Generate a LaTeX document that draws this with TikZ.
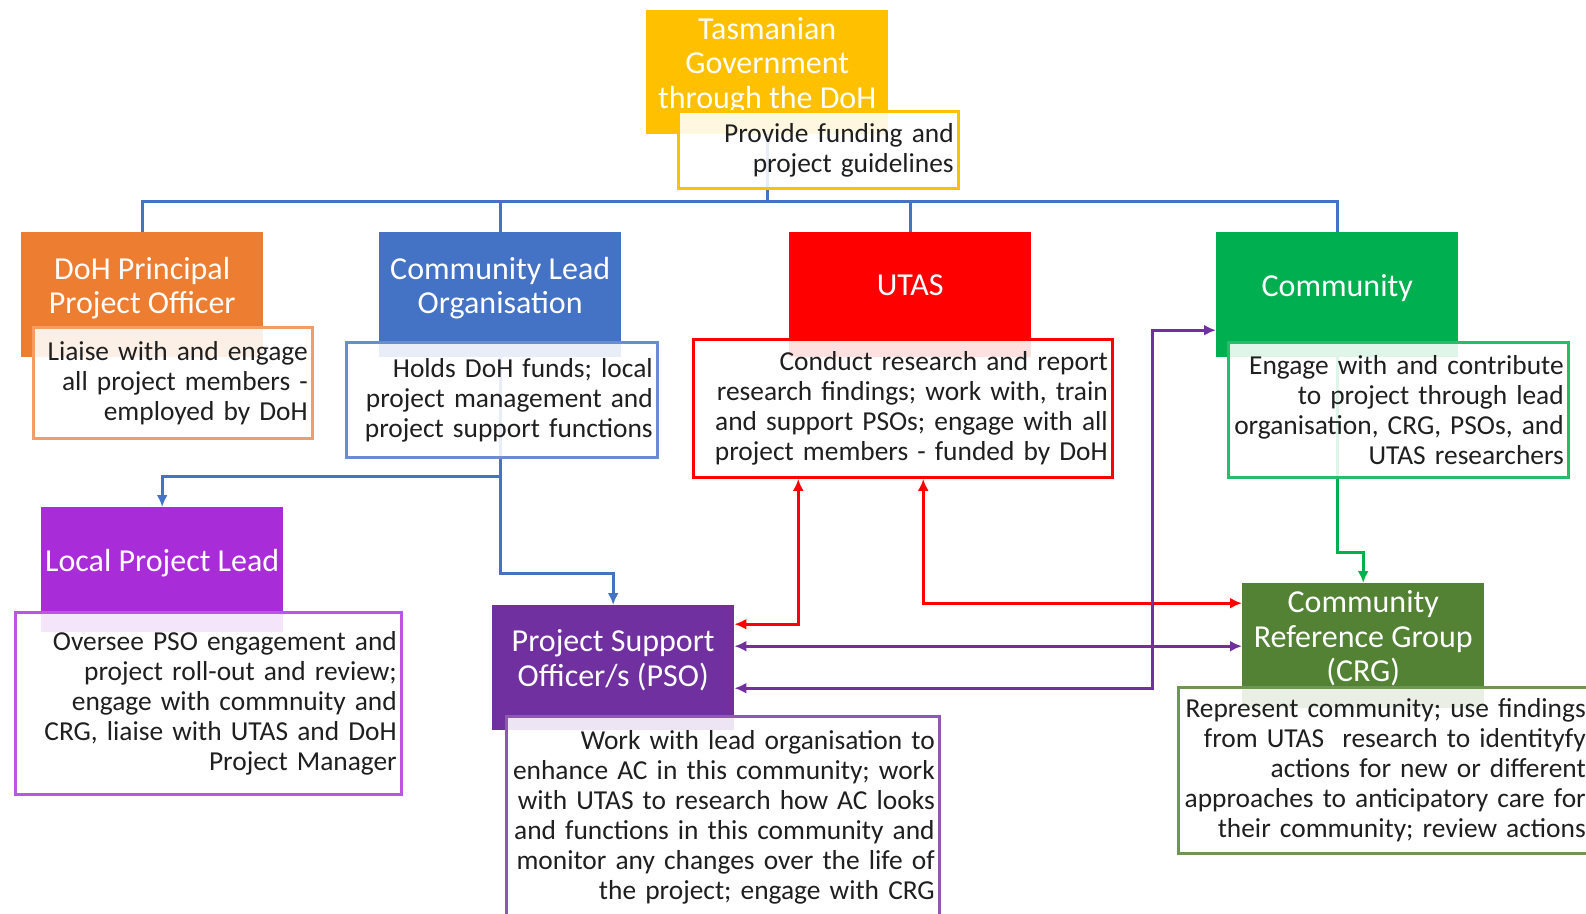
\documentclass[tikz,border=0pt]{standalone}
\usepackage{fontspec}
\setmainfont{Carlito}
\usepackage{tikz}
\usetikzlibrary{arrows.meta}
\definecolor{tasyellow}{HTML}{FFC000}
\definecolor{dohorange}{HTML}{ED7D31}
\definecolor{cloblue}{HTML}{4472C4}
\definecolor{utasred}{HTML}{FF0000}
\definecolor{commgreen}{HTML}{00B050}
\definecolor{lplpurple}{HTML}{A92CD9}
\definecolor{psopurple}{HTML}{7030A0}
\definecolor{crggreen}{HTML}{548235}
\newcommand\nohyph{\hyphenpenalty=10000\relax}
\tikzstyle{HEAD} = [rectangle, anchor=north west, minimum width=242pt, minimum height=125pt, inner sep=0pt, align=center, text=white, font=\fontsize{32}{34.5}\selectfont, text depth=19pt]
\tikzstyle{DESC} = [rectangle, draw, line width=2.5pt, fill=white, fill opacity=0.88, text opacity=1, anchor=north west, align=right, inner xsep=4.5pt, inner ysep=0pt, text=black!88, font=\fontsize{27.4}{30}\selectfont\nohyph]
\tikzstyle{LINE} = [draw, line width=3pt, ->, >={Latex[length=12pt,width=11pt]}]
\tikzstyle{BOTH} = [draw, line width=3pt, <->, >={Latex[length=12pt,width=11pt]}]

\begin{document}
\begin{tikzpicture}[x=1pt, y=-1pt]
% Define
\tikzstyle{BUS} = [draw, line width=3pt, cloblue]
\useasboundingbox (0,0) rectangle (1586,913);
\clip (0,0) rectangle (1586,913);
\coordinate (bus) at (0,201);
% Place nodes
\node [HEAD, fill=tasyellow, minimum height=124pt] (tas) at (646,10) {Tasmanian\\Government\\through the DoH};
\node [HEAD, fill=dohorange] (doh) at (21,232) {DoH Principal\\Project Officer};
\node [HEAD, fill=cloblue] (clo) at (379,232) {Community Lead\\Organisation};
\node [HEAD, fill=utasred] (utas) at (789,232) {UTAS};
\node [HEAD, fill=commgreen] (comm) at (1216,232) {Community};
\node [HEAD, fill=lplpurple] (lpl) at (41,507) {Local Project Lead};
\node [HEAD, fill=psopurple] (pso) at (492,605) {Project Support\\Officer/s (PSO)};
\node [HEAD, fill=crggreen] (crg) at (1242,583) {Community\\Reference Group\\(CRG)};
% LINES under the boxes
\path [BUS] (tas.south) -- (tas.south |- bus);
\path [BUS] (doh.north) |- (comm.north |- bus) -- (comm.north);
\foreach \n in {clo, utas}
  \path [BUS] (\n.north) -- (\n.north |- bus);
\path [LINE, cloblue] (clo.south) -- ++(0,119) -| (lpl.north);
\path [LINE, cloblue] (clo.south) -- ++(0,216) -| (pso.north);
\path [LINE, commgreen] (comm.south) -- ++(0,195) -| (crg.north);
% Place boxes
\node [DESC, draw=tasyellow, text width=271pt, minimum height=77pt] (provide) at ([shift={(31,-24)}]tas.south west) {Provide funding and\\project guidelines};
\node [DESC, draw=dohorange!75, text width=270pt, minimum height=111pt] (liaise) at ([shift={(11,-31)}]doh.south west) {Liaise with and engage\\all project members -\\employed by DoH};
\node [DESC, draw=cloblue!80, text width=302pt, minimum height=115pt] (holds) at ([shift={(-34,-16)}]clo.south west) {Holds DoH funds; local\\project management and\\project support functions};
\node [DESC, draw=utasred, text width=410pt, minimum height=138pt] (conduct) at ([shift={(-97,-19)}]utas.south west) {Conduct research and report\\research findings; work with, train\\and support PSOs; engage with all\\project members - funded by DoH};
\node [DESC, draw=commgreen!85, text width=331pt, minimum height=135pt] (engage) at ([shift={(11,-16)}]comm.south west) {Engage with and contribute\\to project through lead\\organisation, CRG, PSOs, and\\UTAS researchers};
\node [DESC, draw=lplpurple!80, text width=377pt, minimum height=182pt] (oversee) at ([shift={(-27,-21)}]lpl.south west) {Oversee PSO engagement and\\project roll-out and review;\\engage with commnuity and\\CRG, liaise with UTAS and DoH\\Project Manager};
\node [DESC, draw=psopurple!80, text width=424pt, minimum height=202pt] (work) at ([shift={(13,-15)}]pso.south west) {Work with lead organisation to\\enhance AC in this community; work\\with UTAS to research how AC looks\\and functions in this community and\\monitor any changes over the life of\\the project; engage with CRG};
\node [DESC, draw=crggreen!85, text width=403pt, minimum height=166pt] (represent) at ([shift={(-65,-22)}]crg.south west) {Represent community; use findings\\from UTAS~ research to identityfy\\actions for new or different\\approaches to anticipatory care for\\their community; review actions};
% LINES and ARROWS
\path [BOTH, utasred] ([xshift=-104.5pt]conduct.south) |- ([yshift=43.5pt]pso.east);
\path [BOTH, utasred] ([xshift=20.5pt]conduct.south) |- ([yshift=42.5pt]crg.west);
\path [BOTH, psopurple] ([yshift=21.5pt]pso.east) -- ([yshift=21.5pt]pso.east -| crg.west);
\path [BOTH, psopurple] ([yshift=-20.5pt]pso.east) -- ++(418,0) |- ([yshift=-35.5pt]comm.west);
\end{tikzpicture}
\end{document}
